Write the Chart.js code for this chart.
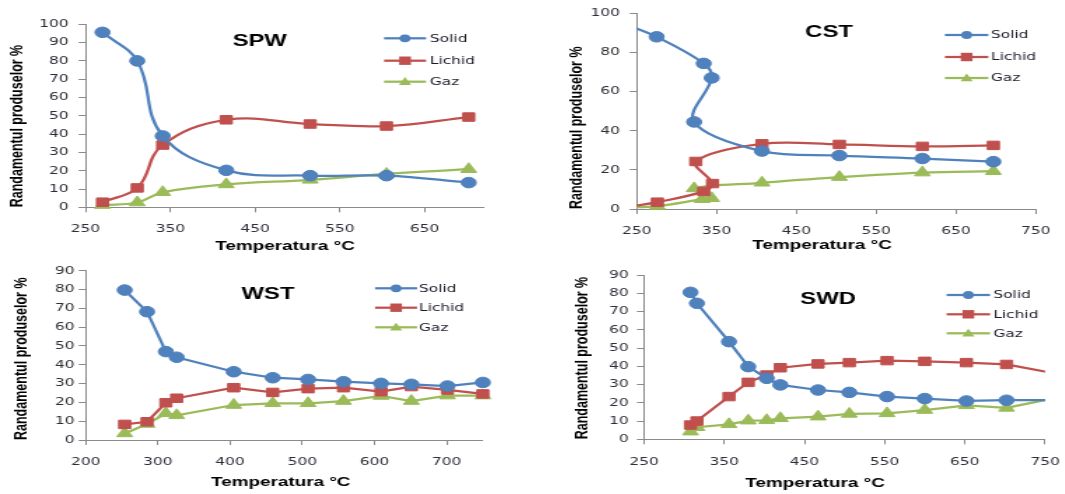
<!DOCTYPE html>
<html><head><meta charset="utf-8">
<script src="https://cdn.jsdelivr.net/npm/chart.js@4/dist/chart.umd.min.js"></script>
<style>
html,body{margin:0;padding:0;background:#fff;width:1065px;height:494px;overflow:hidden;}
canvas{position:absolute;transform:scaleX(1.4);transform-origin:0 0;}
</style></head><body>
<canvas id="c1" width="379" height="262" style="left:0px;top:0px"></canvas>
<canvas id="c2" width="382" height="262" style="left:530px;top:0px"></canvas>
<canvas id="c3" width="379" height="244" style="left:0px;top:250px"></canvas>
<canvas id="c4" width="382" height="244" style="left:530px;top:250px"></canvas>
<script>
// ---------- data ----------
const SERIES_NAMES = ['Solid', 'Lichid', 'Gaz'];
const X_TITLE = 'Temperatura °C';
const Y_TITLE = 'Randamentul produselor %';

// SPW
const SPW_T      = [270, 311, 341, 416, 515, 605, 702];
const SPW_SOLID  = [95.6, 80, 39, 20.2, 17.3, 17.3, 13.5];
const SPW_LICHID = [2.8, 10.6, 34, 47.8, 45.5, 44.4, 49.3];
const SPW_GAZ    = [1.2, 2.6, 8.2, 12.5, 15, 18.2, 20.8];
const SPW_X_TICKS = [250, 350, 450, 550, 650];

// CST
const CST_T_SOLID  = [235, 275, 334, 344, 322, 407, 504, 608, 697];
const CST_SOLID    = [94.5, 88, 74.4, 67, 44.5, 29.6, 27.3, 25.8, 24.2];
const CST_T_LICHID = [235, 276, 334, 345, 324, 407, 504, 608, 697];
const CST_LICHID   = [0.8, 3.5, 9, 13, 24.3, 33.3, 33, 32, 32.5];
const CST_T_GAZ    = [235, 276, 332, 344, 322, 407, 504, 608, 697];
const CST_GAZ      = [0.8, 1.5, 5, 5.5, 10.5, 13.4, 16.3, 18.6, 19.3];
const CST_X_TICKS = [250, 350, 450, 550, 650, 750];

// WST
const WST_T      = [254, 285, 311, 326, 405, 459, 508, 557, 609, 651, 701, 750];
const WST_SOLID  = [79.7, 68.2, 47, 44, 36.3, 33.1, 32.2, 31, 30.1, 29.6, 28.7, 30.6];
const WST_LICHID = [8.3, 9.7, 19.8, 22.2, 27.8, 25.3, 27.3, 27.8, 25.7, 28.4, 26.6, 24.5];
const WST_GAZ    = [3.5, 8.5, 14.2, 13.1, 18.6, 19.5, 19.5, 20.7, 23.4, 20.7, 23.6, 23.6];
const WST_X_TICKS = [200, 300, 400, 500, 600, 700];

// SWD
const SWD_T      = [308, 316, 356, 380, 403, 420, 467, 506, 553, 600, 652, 702, 800];
const SWD_SOLID  = [80.5, 74.5, 53.5, 39.8, 33.4, 29.8, 27, 25.7, 23.4, 22.3, 21, 21.4, 21.5];
const SWD_LICHID = [7.8, 10, 23.4, 31.2, 35.2, 39.2, 41.3, 42, 43.1, 42.7, 42, 41, 33];
const SWD_GAZ    = [4.2, 6.6, 8.2, 10.2, 10.4, 11.5, 12.4, 13.9, 14.2, 16, 18.6, 17.2, 26];
const SWD_X_TICKS = [250, 350, 450, 550, 650, 750];

// ---------- styles ----------
const COLORS = ['#4F81BD', '#C0504D', '#9BBB59'];
const STYLES = ['circle', 'rect', 'triangle'];
const RADII = [5.3, 6, 6.5];
const AXIS_COLOR = '#8a8a8a';
const TICK_FONT = {family: '"DejaVu Sans", Verdana, sans-serif', size: 11};
const TICK_COLOR = '#2e2e38';
const BOLD_FAMILY = '"Liberation Sans", Arial, sans-serif';

function drawMarker(ctx, style, x, y, color) {
  ctx.fillStyle = color;
  ctx.beginPath();
  if (style === 'circle') {
    ctx.arc(x, y, 3.9, 0, Math.PI * 2);
  } else if (style === 'rect') {
    ctx.rect(x - 4.2, y - 4.2, 8.4, 8.4);
  } else {
    ctx.moveTo(x, y - 4.6);
    ctx.lineTo(x + 4.4, y + 3.2);
    ctx.lineTo(x - 4.4, y + 3.2);
    ctx.closePath();
  }
  ctx.fill();
}

const panelDecor = {
  id: 'panelDecor',
  afterDraw(chart, args, o) {
    const ctx = chart.ctx;
    ctx.save();
    ctx.fillStyle = '#000';
    ctx.textAlign = 'center';
    ctx.textBaseline = 'middle';
    ctx.font = 'bold 17px ' + BOLD_FAMILY;
    ctx.fillText(o.title, o.titleX, o.titleY);
    ctx.font = 'bold 13.5px ' + BOLD_FAMILY;
    ctx.fillText(X_TITLE, o.xTitleX, o.xTitleY);
    ctx.font = '11px "DejaVu Sans", Verdana, sans-serif';
    ctx.textAlign = 'left';
    chart.data.datasets.forEach((ds, i) => {
      const y = o.legendY[i];
      ctx.strokeStyle = ds.borderColor;
      ctx.lineWidth = 2.25;
      ctx.beginPath();
      ctx.moveTo(o.legendX, y);
      ctx.lineTo(o.legendX + o.legendLen, y);
      ctx.stroke();
      drawMarker(ctx, ds.pointStyle, o.legendX + o.legendLen / 2, y, ds.borderColor);
      ctx.fillStyle = '#1c1c28';
      ctx.fillText(ds.label, o.legendTextX, y + 0.5);
    });
    ctx.restore();
  }
};

function makeChart(cfg) {
  const canvas = document.getElementById(cfg.id);
  const W = canvas.width, H = canvas.height;
  const a = cfg.area;
  const gridOpts = {display: true, drawOnChartArea: false, drawTicks: true, tickLength: 5, color: AXIS_COLOR, lineWidth: 1};
  const borderOpts = {display: true, color: AXIS_COLOR, width: 1};
  return new Chart(canvas, {
    type: 'line',
    data: {
      datasets: cfg.series.map((s, i) => ({
        label: SERIES_NAMES[i],
        data: s.x.map((x, j) => ({x: x, y: s.y[j]})),
        borderColor: COLORS[i],
        backgroundColor: COLORS[i],
        pointStyle: STYLES[i],
        pointRadius: RADII[i],
        pointBorderWidth: 1,
        pointBackgroundColor: COLORS[i],
        pointBorderColor: COLORS[i],
        borderWidth: 2.25,
        tension: cfg.tension,
        fill: false,
        clip: cfg.clip
      }))
    },
    options: {
      responsive: false,
      animation: false,
      events: [],
      devicePixelRatio: 1,
      layout: {padding: {left: 0, top: a.top, right: W - a.right, bottom: H - a.bottom - cfg.xh}},
      plugins: {
        legend: {display: false},
        tooltip: {enabled: false},
        panelDecor: cfg.decor
      },
      scales: {
        x: {
          type: 'linear',
          min: cfg.xMin, max: cfg.xMax,
          afterBuildTicks: sc => { sc.ticks = cfg.xTicks.map(v => ({value: v})); },
          afterFit: sc => { sc.height = cfg.xh; sc.paddingLeft = 0; sc.paddingRight = 0; },
          ticks: {padding: cfg.xTickPad, font: TICK_FONT, color: TICK_COLOR, maxRotation: 0, autoSkip: false},
          grid: gridOpts,
          border: borderOpts,
          title: {display: false}
        },
        y: {
          min: 0, max: cfg.yMax,
          afterFit: sc => { sc.width = a.left; sc.paddingTop = 0; sc.paddingBottom = 0; },
          ticks: {stepSize: cfg.yStep, padding: cfg.yTickPad, font: TICK_FONT, color: TICK_COLOR},
          grid: gridOpts,
          border: borderOpts,
          title: {display: true, text: Y_TITLE, align: 'start', color: '#000',
                  font: {family: BOLD_FAMILY, size: 12.5, weight: 'bold'},
                  padding: {top: cfg.yTitlePad, bottom: 0}}
        }
      }
    },
    plugins: [panelDecor]
  });
}

makeChart({
  id: 'c1',
  area: {left: 61.1, right: 345.7, top: 24.3, bottom: 207.3}, xh: 42,
  xMin: 250, xMax: 720, xTicks: SPW_X_TICKS, yMax: 100, yStep: 10,
  xTickPad: 10.6, yTickPad: 7, yTitlePad: 4.6, tension: 0.4,
  clip: {left: 0, right: 0, top: false, bottom: false},
  series: [{x: SPW_T, y: SPW_SOLID}, {x: SPW_T, y: SPW_LICHID}, {x: SPW_T, y: SPW_GAZ}],
  decor: {title: 'SPW', titleX: 185.5, titleY: 41, xTitleX: 203.6, xTitleY: 246,
          legendX: 274.3, legendLen: 30, legendTextX: 307.1, legendY: [38.3, 60.7, 81.7]}
});

makeChart({
  id: 'c2',
  area: {left: 76.2, right: 361.2, top: 13.3, bottom: 209}, xh: 45,
  xMin: 250, xMax: 750, xTicks: CST_X_TICKS, yMax: 100, yStep: 20,
  xTickPad: 10.4, yTickPad: 7, yTitlePad: 25.8, tension: 0.35,
  clip: {left: 0, right: 0, top: false, bottom: false},
  series: [{x: CST_T_SOLID, y: CST_SOLID}, {x: CST_T_LICHID, y: CST_LICHID}, {x: CST_T_GAZ, y: CST_GAZ}],
  decor: {title: 'CST', titleX: 213.6, titleY: 32.5, xTitleX: 208.6, xTitleY: 245,
          legendX: 296.4, legendLen: 31, legendTextX: 329.3, legendY: [35, 57, 78]}
});

makeChart({
  id: 'c3',
  area: {left: 61.2, right: 344.9, top: 20.7, bottom: 190}, xh: 50.4,
  xMin: 200, xMax: 750, xTicks: WST_X_TICKS, yMax: 90, yStep: 10,
  xTickPad: 10.7, yTickPad: 3, yTitlePad: 7.7, tension: 0,
  clip: {left: 0, right: false, top: false, bottom: false},
  series: [{x: WST_T, y: WST_SOLID}, {x: WST_T, y: WST_LICHID}, {x: WST_T, y: WST_GAZ}],
  decor: {title: 'WST', titleX: 191.4, titleY: 44, xTitleX: 200.5, xTitleY: 232,
          legendX: 267.9, legendLen: 30, legendTextX: 299.3, legendY: [38.3, 57.7, 77.3]}
});

makeChart({
  id: 'c4',
  area: {left: 81.4, right: 367.9, top: 25, bottom: 189.3}, xh: 51.8,
  xMin: 250, xMax: 750, xTicks: SWD_X_TICKS, yMax: 90, yStep: 10,
  xTickPad: 11.1, yTickPad: 6, yTitlePad: 29.6, tension: 0,
  clip: {left: 0, right: 0, top: false, bottom: false},
  series: [{x: SWD_T, y: SWD_SOLID}, {x: SWD_T, y: SWD_LICHID}, {x: SWD_T, y: SWD_GAZ}],
  decor: {title: 'SWD', titleX: 212.9, titleY: 49, xTitleX: 203.6, xTitleY: 233,
          legendX: 297.6, legendLen: 31, legendTextX: 330.9, legendY: [45, 64.3, 83.3]}
});
</script>
</body></html>
